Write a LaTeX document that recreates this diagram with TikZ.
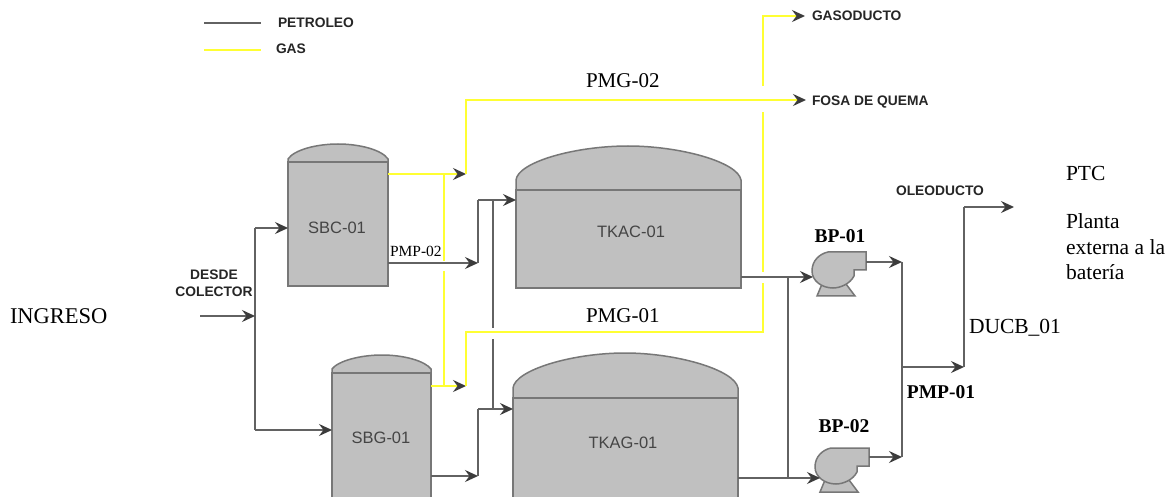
\documentclass[tikz,border=0pt]{standalone}
\usepackage{fontspec}
\setmainfont{Liberation Serif}
\newfontfamily\arialf{Liberation Sans}
\usetikzlibrary{arrows.meta,calc}
\definecolor{oilc}{HTML}{626262}
\definecolor{gasc}{HTML}{FFFF33}
\definecolor{tipc}{HTML}{3C3C3C}
\definecolor{tankc}{HTML}{C0C0C0}
\definecolor{edgec}{HTML}{777777}
\definecolor{lblc}{HTML}{454545}
\tikzset{
  x=1pt,y=-1pt,
  oil/.style={draw=oilc,line width=1.6pt,line join=round},
  gas/.style={draw=gasc,line width=2pt,line join=miter},
  tip/.style={-{Stealth[inset=4.5pt,length=13pt,width=12pt,color=tipc]}},
  tankbody/.style={draw=edgec,fill=tankc,line width=1.5pt,inner sep=0pt,outer sep=0pt,anchor=north west},
  tankdome/.style={draw=edgec,fill=tankc,line width=1.5pt},
  tag/.style={inner sep=0pt,outer sep=0pt,text=black},
  serifl/.style={tag,anchor=west,font=\fontsize{21.5}{21.5}\selectfont},
  serifb/.style={tag,font=\fontsize{19.5}{19.5}\selectfont\bfseries},
  small/.style={tag,font=\arialf\fontsize{13.8}{13.8}\selectfont\bfseries,text=black!85},
  tanktag/.style={tag,font=\arialf\fontsize{16.5}{16.5}\selectfont,text=lblc},
  pumpshape/.pic={
    \path[tankdome] (5,44) -- (10,32) -- (34,32) -- (43,44) -- cycle;
    \path[tankdome] (54,0) -- (54,18) -- (42,18) -- (42,24)
      .. controls (38,32) and (28,36) .. (21,36)
      .. controls (10,36) and (0,29) .. (0,19)
      .. controls (0,9) and (7,2) .. (16,0) -- cycle;
  }
}
\begin{document}
\begin{tikzpicture}
\useasboundingbox (0,0) rectangle (1176,497);
\fill[white] (0,0) rectangle (1176,497);

% legend
\coordinate (lp1) at (204,23); \coordinate (lp2) at (261,23);
\coordinate (lg1) at (204,50); \coordinate (lg2) at (261,50);
\draw[oil] (lp1) -- (lp2);
\draw[gas] (lg1) -- (lg2);
\node[small,anchor=west] (tpet) at (278,23) {PETROLEO};
\node[small,anchor=west] (tgas) at (276,49) {GAS};

% tanks
\path[tankdome] (288,162) -- (288,159) .. controls (294,150) and (316,144) .. (338,144) .. controls (360,144) and (382,150) .. (388,159) -- (388,162) -- cycle;
\node[tankbody,minimum width=100pt,minimum height=124pt] (SBC) at (288,162) {};
\path[tankdome] (332,373) -- (332,369) .. controls (338,361) and (360,355) .. (382,355) .. controls (404,355) and (425,361) .. (431,369) -- (431,373) -- cycle;
\node[tankbody,minimum width=99pt,minimum height=130pt] (SBG) at (332,373) {};
\path[tankdome] (516,190) -- (516,180) .. controls (518,162) and (575,146) .. (628,146) .. controls (680,146) and (738,162) .. (741,180) -- (741,190) -- cycle;
\node[tankbody,minimum width=225pt,minimum height=98pt] (TKAC) at (516,190) {};
\path[tankdome] (513,398) -- (513,388) .. controls (515,370) and (572,353) .. (625,353) .. controls (677,353) and (735,370) .. (738,388) -- (738,398) -- cycle;
\node[tankbody,minimum width=225pt,minimum height=105pt] (TKAG) at (513,398) {};
\node[tanktag] (lSBC) at (337,228) {SBC-01};
\node[tanktag] (lSBG) at (381,438) {SBG-01};
\node[tanktag] (lTKAC) at (631,232) {TKAC-01};
\node[tanktag] (lTKAG) at (623,443) {TKAG-01};

% pumps
\pic (pa) at (812,252) {pumpshape};
\pic (pb) at (815,448) {pumpshape};

% coordinates of the oil network
\coordinate (in0) at (200,316);
\coordinate (c1) at (255,316);
\coordinate (c1t) at (255,228);
\coordinate (c1b) at (255,430);
\coordinate (sbcin) at (SBC.west |- c1t);
\coordinate (sbgin) at (SBG.west |- c1b);
\coordinate (o1s) at (SBC.east |- 0,263);
\coordinate (o1e) at (478,263);
\coordinate (o1t) at (478,200);
\coordinate (tain) at (TKAC.west |- o1t);
\coordinate (v2t) at (493,200);
\coordinate (v2g1) at (493,328);
\coordinate (v2g2) at (493,339);
\coordinate (v2b) at (493,409);
\coordinate (o2s) at (SBG.east |- 0,476);
\coordinate (o2e) at (478,476);
\coordinate (o2t) at (478,409);
\coordinate (tbin) at (TKAG.west |- o2t);
\coordinate (tao) at (TKAC.east |- 0,277);
\coordinate (p1in) at (813,277);
\coordinate (br1) at (788,277);
\coordinate (br2) at (788,478);
\coordinate (tbo) at (TKAG.east |- br2);
\coordinate (p2in) at (820,478);
\coordinate (p1o) at (866,262);
\coordinate (h1) at (902,262);
\coordinate (p2o) at (869,457);
\coordinate (h2) at (902,457);
\coordinate (h3) at (902,367);
\coordinate (d1) at (964,367);
\coordinate (d2) at (964,207);
\coordinate (d3) at (1014,207);

% oil lines
\draw[oil] (c1t) -- (c1b);
\draw[oil,tip] (in0) -- (c1);
\draw[oil,tip] (c1t) -- (sbcin);
\draw[oil,tip] (c1b) -- (sbgin);
\draw[oil,tip] (o1s) -- (o1e);
\draw[oil] (o1e) -- (o1t);
\draw[oil,tip] (o1t) -- (tain);
\draw[oil] (v2t) -- (v2g1);
\draw[oil] (v2g2) -- (v2b);
\draw[oil,tip] (o2s) -- (o2e);
\draw[oil] (o2e) -- (o2t);
\draw[oil,tip] (o2t) -- (tbin);
\draw[oil,tip] (tao) -- (p1in);
\draw[oil] (br1) -- (br2);
\draw[oil,tip] (tbo) -- (p2in);
\draw[oil,tip] (p1o) -- (h1);
\draw[oil,tip] (p2o) -- (h2);
\draw[oil] (h1) -- (h2);
\draw[oil,tip] (h3) -- (d1);
\draw[oil] (d1) -- (d2);
\draw[oil,tip] (d2) -- (d3);

% gas network
\coordinate (g1s) at (SBC.east |- 0,174);
\coordinate (g1e) at (466,174);
\coordinate (g1t) at (466,100);
\coordinate (fosa) at (806,100);
\coordinate (gv1) at (444,174);
\coordinate (gv2) at (444,261);
\coordinate (gv3) at (444,271);
\coordinate (gv4) at (444,386);
\coordinate (g2s) at (SBG.east |- gv4);
\coordinate (g2e) at (466,386);
\coordinate (g2t) at (466,332);
\coordinate (g3) at (763,332);
\coordinate (g4) at (763,283);
\coordinate (g5) at (763,272);
\coordinate (g6) at (763,112);
\coordinate (g7) at (763,86);
\coordinate (g8) at (763,16);
\coordinate (gaso) at (805,16);
\draw[gas,tip] (g1s) -- (g1e);
\draw[gas] (g1e) -- (g1t) -- ($(g1t)!0.5!(fosa)$);
\draw[gas,tip] ($(g1t)!0.5!(fosa)$) -- (fosa);
\draw[gas] (gv1) -- (gv2);
\draw[gas] (gv3) -- (gv4);
\draw[gas,tip] (g2s) -- (g2e);
\draw[gas] (g2e) -- (g2t) -- (g3) -- (g4);
\draw[gas] (g5) -- (g6);
\draw[gas] (g7) -- (g8) -- ($(g8)!0.5!(gaso)$);
\draw[gas,tip] ($(g8)!0.5!(gaso)$) -- (gaso);

% labels
\node[small,anchor=west] (tgaso) at (812,16) {GASODUCTO};
\node[small,anchor=west] (tfosa) at (812,102) {FOSA DE QUEMA};
\node[small] (tole) at (940,191) {OLEODUCTO};
\node[small,align=center] (tdes) at (214,283) {DESDE\\[3pt]COLECTOR};
\node[serifl,font=\fontsize{22.5}{22.5}\selectfont] (ting) at (10,316) {INGRESO};
\node[serifl,font=\fontsize{21}{21}\selectfont] (tpg2) at (586,81) {PMG-02};
\node[serifl,font=\fontsize{21}{21}\selectfont] (tpg1) at (586,316) {PMG-01};
\node[tag,anchor=west,font=\fontsize{15.5}{15.5}\selectfont] (tpm2) at (390,251) {PMP-02};
\node[serifb] (tb1) at (840,236) {BP-01};
\node[serifb] (tb2) at (844,426) {BP-02};
\node[serifb] (tpm1) at (941,392) {PMP-01};
\node[serifl] (tduc) at (969,328) {DUCB\_01};
\node[serifl] (tptc) at (1066,173) {PTC};
\node[serifl] (tpl1) at (1066,221) {Planta};
\node[serifl] (tpl2) at (1066,247) {externa a la};
\node[serifl] (tpl3) at (1066,272) {batería};
\end{tikzpicture}
\end{document}
